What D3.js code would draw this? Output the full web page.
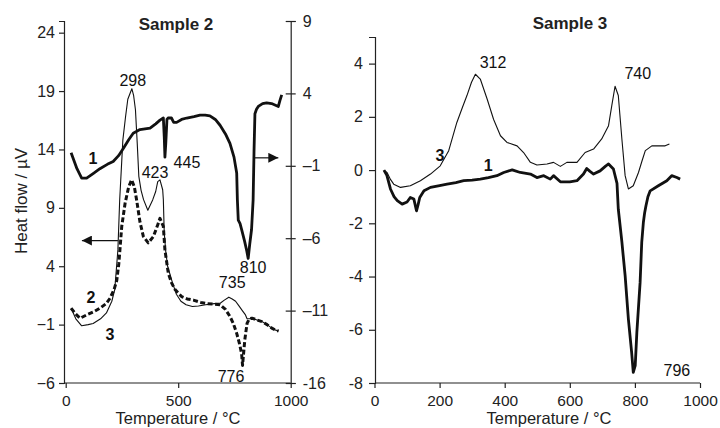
<!DOCTYPE html>
<html><head><meta charset="utf-8">
<script src="https://cdn.jsdelivr.net/npm/d3@7"></script>
<style>
body{margin:0;background:#fff;}
svg{display:block;font-family:"Liberation Sans",Arial,Helvetica,sans-serif;}
</style></head>
<body><svg id="c" width="720" height="428"></svg>
<script>
// ---------- DATA ----------
// Sample 2, curve 1 (right axis), [temperature, value]
const s2c1 = [[24,-0.1],[50,-1.2],[71,-1.85],[93,-1.85],[125,-1.5],[152,-1.2],[185,-0.9],[211,-0.7],[235,-0.3],[256,0.2],[280,0.8],[300,1.25],[330,1.5],[375,1.6],[400,1.9],[419,2.15],[434,2.3],[438,1.0],[441,-0.4],[445,0.6],[450,2.2],[455,2.3],[470,2.3],[480,2.0],[493,2.0],[515,2.2],[538,2.3],[570,2.4],[597,2.5],[620,2.5],[641,2.45],[665,2.2],[686,1.8],[710,1.2],[730,0.55],[748,-0.4],[760,-1.5],[763,-3.35],[767,-4.75],[775,-5.0],[782,-5.4],[795,-6.2],[805,-6.9],[811,-7.4],[818,-6.4],[826,-5.4],[833,-3.35],[837,0.0],[841,2.6],[848,2.9],[856,3.1],[875,3.3],[893,3.35],[915,3.3],[930,3.2],[945,3.1],[952,3.5],[960,3.9]];
// Sample 2, curve 2 (left axis, dashed)
const s2c2 = [[24,0.4],[45,-0.1],[64,-0.45],[93,-0.17],[125,0.1],[152,0.4],[180,0.8],[197,1.26],[215,2.0],[227,2.8],[236,4.2],[241,5.4],[249,7.4],[264,9.4],[280,10.8],[293,11.4],[305,10.8],[315,9.7],[330,7.8],[345,6.55],[367,6.0],[390,6.55],[410,7.6],[419,8.1],[434,7.4],[441,5.4],[456,3.4],[470,2.6],[486,2.0],[515,1.4],[540,1.2],[567,1.1],[600,0.9],[626,0.8],[660,0.75],[686,0.7],[710,0.3],[730,-0.3],[745,-0.9],[760,-1.75],[772,-2.6],[782,-3.5],[786,-4.5],[790,-3.6],[796,-2.3],[806,-0.9],[816,-0.5],[828,-0.45],[850,-0.6],[872,-0.74],[895,-1.0],[916,-1.3],[930,-1.45],[946,-1.55]];
// Sample 2, curve 3 (left axis, thin)
const s2c3 = [[24,0.4],[45,-0.5],[71,-1.1],[100,-1.0],[122,-0.9],[155,-0.5],[181,0.0],[205,1.0],[218,2.0],[232,5.4],[240,9.7],[254,14.8],[266,16.8],[276,18.3],[294,19.2],[302,18.6],[310,17.4],[318,14.5],[325,11.7],[335,10.5],[346,9.7],[365,8.8],[387,9.7],[400,10.4],[409,11.25],[419,11.4],[431,10.55],[434,9.7],[438,6.85],[445,5.2],[453,4.0],[475,2.55],[492,1.6],[512,1.0],[535,0.7],[563,0.55],[590,0.6],[622,0.7],[660,0.8],[688,0.85],[705,1.1],[725,1.35],[740,1.2],[755,1.0],[770,0.6],[785,0.2],[799,-0.17],[806,-0.5],[816,-0.5],[828,-0.45],[850,-0.6],[872,-0.74],[895,-1.0],[916,-1.3],[930,-1.45],[946,-1.55]];
// Sample 3, curve 1 (thick)
const s3c1 = [[29,0],[38,-0.2],[49,-0.71],[60,-1.0],[70,-1.15],[85,-1.28],[100,-1.2],[110,-1.03],[121,-1.09],[129,-1.53],[134,-1.3],[139,-1.03],[152,-0.78],[172,-0.65],[200,-0.58],[223,-0.53],[250,-0.47],[274,-0.4],[300,-0.38],[325,-0.34],[350,-0.28],[376,-0.21],[397,-0.09],[423,0.01],[448,-0.09],[479,-0.15],[499,-0.28],[520,-0.21],[540,-0.34],[550,-0.21],[571,-0.44],[600,-0.44],[622,-0.4],[642,-0.15],[652,0.06],[662,-0.05],[673,-0.15],[693,-0.03],[710,0.15],[719,0.23],[734,0.04],[745,-0.5],[749,-1.47],[760,-2.7],[770,-3.97],[780,-5.6],[790,-6.85],[795,-7.6],[801,-7.35],[806,-6.1],[816,-4.22],[821,-2.72],[826,-1.97],[830,-1.6],[834,-1.34],[840,-1.0],[847,-0.78],[872,-0.59],[898,-0.4],[913,-0.21],[929,-0.28],[939,-0.34]];
// Sample 3, curve 3 (thin)
const s3c3 = [[29,0],[39,-0.1],[49,-0.35],[59,-0.53],[80,-0.65],[110,-0.59],[141,-0.4],[172,-0.15],[202,0.16],[228,0.73],[253,1.79],[270,2.35],[284,2.8],[298,3.3],[310,3.6],[325,3.42],[346,2.67],[366,1.9],[387,1.29],[407,1.04],[438,0.91],[458,0.66],[479,0.29],[499,0.19],[530,0.23],[550,0.29],[571,0.14],[591,0.29],[622,0.29],[647,0.66],[673,0.79],[698,1.17],[719,1.67],[729,2.42],[739,3.15],[749,2.8],[760,1.17],[770,-0.21],[780,-0.71],[795,-0.59],[811,-0.09],[822,0.35],[832,0.73],[852,0.91],[877,0.91],[893,0.91],[906,0.98]];

// tick values
const s2LeftTicks = [-6,-1,4,9,14,19,24];
const s2RightTicks = [-16,-11,-6,-1,4,9];
const s2XTicks = [0,500,1000];
const s3YTicks = [-8,-6,-4,-2,0,2,4];
const s3XTicks = [0,200,400,600,800,1000];

// peak annotations [temperature, value, text]
const s2Labels = [[298,19.95,"298"],[397,12.07,"423"],[539,12.9,"445"],[833,3.9,"810"],[740,2.6,"735"],[735,-5.4,"776"]];
const s2CurveNums = [[121,13.27,"1"],[112,1.37,"2"],[197,-1.8,"3"]];
const s3Labels = [[364,4.06,"312"],[809,3.65,"740"],[929,-7.52,"796"]];
const s3CurveNums = [[201,0.56,"3"],[349,0.19,"1"]];
// arrows [fromT, toT, value]
const s2ArrowLeft = [232,72,6.2];
const s2ArrowRight = [841,945,-0.45];

// ---------- DRAW ----------
const svg = d3.select("#c");
const minus = v => (v<0 ? "\u2212"+Math.abs(v) : ""+v);
const hy = v => (v<0 ? "-"+Math.abs(v) : ""+v);

// Sample 2 scales
const x2 = d3.scaleLinear().domain([0,1000]).range([65.7,290.7]);
const yL = d3.scaleLinear().domain([-6,25]).range([383,21]);
const yR = d3.scaleLinear().domain([-16,9]).range([383,21]);
// Sample 3 scales
const x3 = d3.scaleLinear().domain([0,1000]).range([374.5,700]);
const y3 = d3.scaleLinear().domain([-8,5]).range([383,37]);

function styleAxis(g,fs){
  g.selectAll("path.domain").attr("stroke","#222").attr("stroke-width",1.2);
  g.selectAll(".tick line").attr("stroke","#222").attr("stroke-width",1.2);
  g.selectAll("text").attr("font-size",fs||16).attr("fill","#222").attr("font-family","Liberation Sans, Arial, sans-serif");
}

// --- Panel Sample 2 axes
const gL = svg.append("g").attr("transform",`translate(${64},0)`)
  .call(d3.axisLeft(yL).tickValues(s2LeftTicks).tickFormat(minus).tickSizeOuter(0).tickSize(5).tickPadding(4));
styleAxis(gL);
const gR = svg.append("g").attr("transform",`translate(${290.7},0)`)
  .call(d3.axisRight(yR).tickValues(s2RightTicks).tickFormat(v=>v===-16?hy(v):(v<0?"\u2013"+Math.abs(v):""+v)).tickSizeOuter(0).tickSize(5).tickPadding(7));
styleAxis(gR);
gR.selectAll(".tick line").attr("x1",-5);
const gX2 = svg.append("g").attr("transform",`translate(0,${383})`)
  .call(d3.axisBottom(x2).tickValues(s2XTicks).tickFormat(d3.format("d")).tickSizeOuter(0).tickSize(5).tickPadding(7));
styleAxis(gX2,15.5);
gX2.select("path.domain").attr("d",`M64,0H290.7`);

// --- Panel Sample 3 axes
const gY3 = svg.append("g").attr("transform",`translate(${375},0)`)
  .call(d3.axisLeft(y3).tickValues(s3YTicks).tickFormat(hy).tickSizeOuter(0).tickSize(6).tickPadding(6));
styleAxis(gY3);
const gX3 = svg.append("g").attr("transform",`translate(0,${383})`)
  .call(d3.axisBottom(x3).tickValues(s3XTicks).tickFormat(d3.format("d")).tickSizeOuter(0).tickSize(5).tickPadding(7));
styleAxis(gX3,15.5);
gX3.select("path.domain").attr("d",`M375,0H700`);

// --- curves
const line = (xs,ys) => d3.line().x(d=>xs(d[0])).y(d=>ys(d[1])).curve(d3.curveLinear);
function drawCurve(data,xs,ys,w,dash){
  svg.append("path").datum(data).attr("d",line(xs,ys))
    .attr("fill","none").attr("stroke","#111").attr("stroke-width",w)
    .attr("stroke-linejoin","round").attr("stroke-linecap","butt")
    .attr("stroke-dasharray",dash||null);
}
drawCurve(s2c3,x2,yL,1.1);
drawCurve(s2c2,x2,yL,3,"5,2.5");
drawCurve(s2c1,x2,yR,2.8);
drawCurve(s3c3,x3,y3,1.1);
drawCurve(s3c1,x3,y3,2.8);

// --- arrows
const defs = svg.append("defs");
defs.append("marker").attr("id","ah").attr("viewBox","0 0 10 10").attr("refX",10).attr("refY",5)
  .attr("markerWidth",12).attr("markerHeight",10).attr("markerUnits","userSpaceOnUse").attr("orient","auto")
  .append("path").attr("d","M0,0L10,5L0,10Z").attr("fill","#111");
svg.append("line").attr("x1",x2(s2ArrowLeft[0])).attr("x2",x2(s2ArrowLeft[1]))
  .attr("y1",yL(s2ArrowLeft[2])).attr("y2",yL(s2ArrowLeft[2]))
  .attr("stroke","#111").attr("stroke-width",1.2).attr("marker-end","url(#ah)");
svg.append("line").attr("x1",x2(s2ArrowRight[0])).attr("x2",x2(s2ArrowRight[1]))
  .attr("y1",yR(s2ArrowRight[2])).attr("y2",yR(s2ArrowRight[2]))
  .attr("stroke","#111").attr("stroke-width",1.2).attr("marker-end","url(#ah)");

// --- annotations
function labels(arr,xs,ys,bold){
  svg.append("g").selectAll("text").data(arr).join("text")
    .attr("x",d=>xs(d[0])).attr("y",d=>ys(d[1])).attr("dy","0.35em")
    .attr("text-anchor","middle").attr("font-size",16)
    .attr("font-weight",bold?"bold":"normal").attr("fill","#111").text(d=>d[2]);
}
labels(s2Labels,x2,yL,false);
labels(s2CurveNums,x2,yL,true);
labels(s3Labels,x3,y3,false);
labels(s3CurveNums,x3,y3,true);

// --- titles
svg.append("text").attr("x",176).attr("y",30).attr("text-anchor","middle")
  .attr("font-size",17).attr("font-weight","bold").attr("fill","#222").text("Sample 2");
svg.append("text").attr("x",570).attr("y",29).attr("text-anchor","middle")
  .attr("font-size",17).attr("font-weight","bold").attr("fill","#222").text("Sample 3");
svg.append("text").attr("x",178).attr("y",423.5).attr("text-anchor","middle")
  .attr("font-size",16.5).attr("fill","#222").text("Temperature / °C");
svg.append("text").attr("x",549).attr("y",423.5).attr("text-anchor","middle")
  .attr("font-size",16.5).attr("fill","#222").text("Temperature / °C");
svg.append("text").attr("transform","translate(27,201) rotate(-90)").attr("text-anchor","middle")
  .attr("font-size",17).attr("fill","#222").text("Heat flow / \u00b5V");
</script></body></html>
